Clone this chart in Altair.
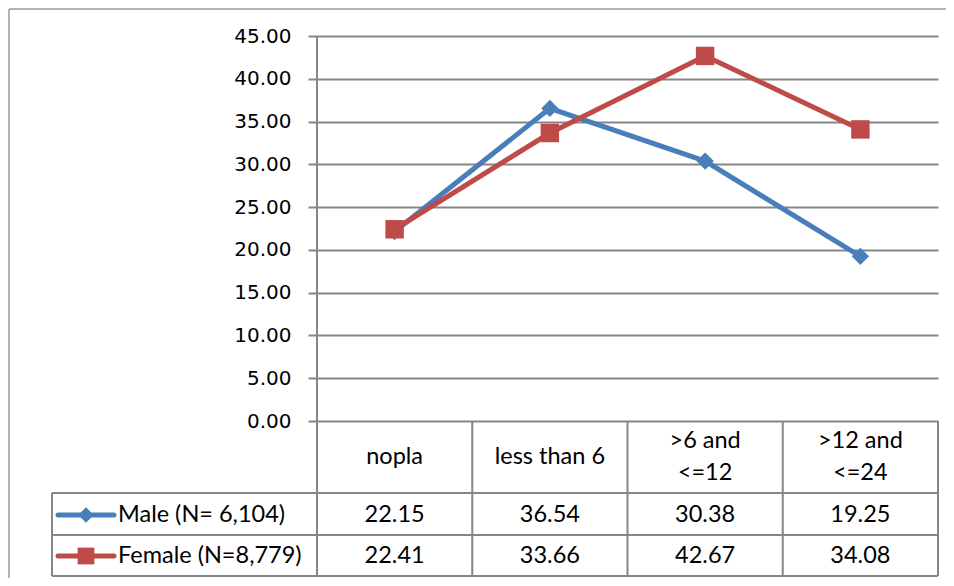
import altair as alt
import pandas as pd

# ---- data ----
categories = ["nopla", "less than 6", ">6 and\n<=12", ">12 and\n<=24"]
series = ["Male (N= 6,104)", "Female (N=8,779)"]
male = [22.15, 36.54, 30.38, 19.25]
female = [22.41, 33.66, 42.67, 34.08]
y_ticks = [0, 5, 10, 15, 20, 25, 30, 35, 40, 45]

colors = ["#4A7EBB", "#BE4B48"]
shapes = ["diamond", "square"]
sizes = [300, 340]

# ---- layout (pixels, relative to plot area) ----
W, H = 621, 385
PAD = {"left": 309, "top": 28, "right": 8, "bottom": 157}
ROW_Y = [479, 520]
HEADER_Y = 421
LINE_H = 32
TABLE_LINES_Y = [457, 499, 540]
LEG_LEFT = -265
GRID = "#868686"
TFONT = "Lato"
TSIZE = 23.5

xs = alt.Scale(domain=[-0.5, len(categories) - 0.5])
ys = alt.Scale(domain=[0, 45])
X = alt.X("i:Q", scale=xs, axis=None)

yaxis = alt.Axis(values=y_ticks, format=".2f", tickSize=9, tickColor=GRID, tickWidth=2,
                 labelPadding=17, grid=True, gridColor=GRID, gridWidth=2, domain=False,
                 labelFont="DejaVu Sans", labelFontSize=20, labelColor="black", title=None)

layers = []

# table / axis frame lines
bounds = pd.DataFrame({"b": [k - 0.5 for k in range(len(categories) + 1)]})
layers.append(alt.Chart(bounds.iloc[:1]).mark_rule(color=GRID, strokeWidth=2).encode(
    x=alt.X("b:Q", scale=xs, axis=None),
    y=alt.value(0), y2=alt.value(TABLE_LINES_Y[-1])))
layers.append(alt.Chart(bounds.iloc[1:]).mark_rule(color=GRID, strokeWidth=2).encode(
    x=alt.X("b:Q", scale=xs, axis=None),
    y=alt.value(H), y2=alt.value(TABLE_LINES_Y[-1])))

one = pd.DataFrame({"a": [0]})
layers.append(alt.Chart(one).mark_rule(color=GRID, strokeWidth=2).encode(
    x=alt.value(LEG_LEFT), y=alt.value(TABLE_LINES_Y[0]), y2=alt.value(TABLE_LINES_Y[-1])))
for yy in TABLE_LINES_Y:
    layers.append(alt.Chart(one).mark_rule(color=GRID, strokeWidth=2).encode(
        x=alt.value(LEG_LEFT), x2=alt.value(W), y=alt.value(yy)))

# outer border
layers.append(alt.Chart(one).mark_rule(color="#9a9a9a", strokeWidth=1.5).encode(
    x=alt.value(-PAD["left"] + 1), x2=alt.value(W + PAD["right"]), y=alt.value(-PAD["top"] + 1)))
layers.append(alt.Chart(one).mark_rule(color="#9a9a9a", strokeWidth=1.5).encode(
    x=alt.value(-PAD["left"] + 1), y=alt.value(-PAD["top"] + 1), y2=alt.value(H + PAD["bottom"])))

# header row (one-line and two-line labels, vertically centred in the row)
cat_df = pd.DataFrame({"cat": categories, "i": list(range(len(categories)))})
for expr, dy in [("indexof(datum.cat, '\\n') < 0", 0), ("indexof(datum.cat, '\\n') >= 0", -LINE_H / 2)]:
    layers.append(alt.Chart(cat_df).transform_filter(expr).mark_text(
        font=TFONT, fontSize=TSIZE, color="black", lineBreak="\n", lineHeight=LINE_H,
        baseline="middle", dy=dy).encode(
        x=X, y=alt.value(HEADER_Y), text="cat:N"))

series_layers = []
for k, (s, vals) in enumerate(zip(series, [male, female])):
    sdf = pd.DataFrame({"i": list(range(len(categories))), "v": vals, "series": s})
    c = alt.Chart(sdf)
    line_y = alt.Y("v:Q", scale=ys, axis=yaxis) if k == 0 else alt.Y("v:Q", scale=ys)
    series_layers.append(c.mark_line(strokeWidth=5, color=colors[k]).encode(
        x=X, y=line_y))
    series_layers.append(c.mark_point(filled=True, opacity=1, color=colors[k],
                                      shape=shapes[k], size=sizes[k]).encode(
        x=X, y=alt.Y("v:Q", scale=ys)))
    # table row values
    layers.append(c.mark_text(font=TFONT, fontSize=TSIZE, color="black", baseline="middle").encode(
        x=X, y=alt.value(ROW_Y[k]), text=alt.Text("v:Q", format=".2f")))
    # legend key
    leg = pd.DataFrame({"series": [s]})
    layers.append(alt.Chart(leg).mark_rule(color=colors[k], strokeWidth=5, strokeCap="round").encode(
        x=alt.value(-259), x2=alt.value(-203), y=alt.value(ROW_Y[k])))
    layers.append(alt.Chart(leg).mark_point(filled=True, opacity=1, color=colors[k],
                                            shape=shapes[k], size=sizes[k] - 60).encode(
        x=alt.value(-231), y=alt.value(ROW_Y[k])))
    layers.append(alt.Chart(leg).mark_text(font=TFONT, fontSize=TSIZE, color="black", align="left",
                                           baseline="middle").encode(
        x=alt.value(-199), y=alt.value(ROW_Y[k]), text="series:N"))

chart = alt.layer(*series_layers, *layers).properties(
    width=W, height=H,
    autosize=alt.AutoSizeParams(type="none"),
    padding=PAD,
).configure_view(stroke=None)

chart.save("out.html", embed_options={"renderer": "svg", "actions": False})
